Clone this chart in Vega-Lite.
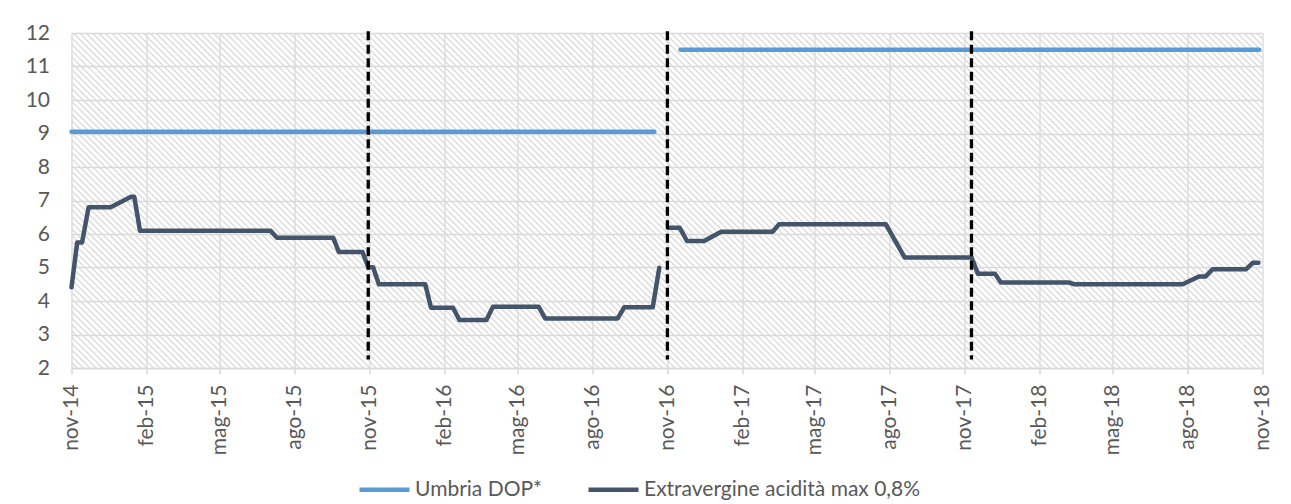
{
  "$schema": "https://vega.github.io/schema/vega-lite/v6.json",
  "width": 1191,
  "height": 335,
  "autosize": {"type": "none"},
  "padding": {"left": 71.5, "top": 33, "right": 28.5, "bottom": 136},
  "background": "white",
  "config": {
    "font": "Lato",
    "view": {"stroke": null, "fill": "white"},
    "axis": {
      "labelFont": "Lato",
      "labelColor": "#595959",
      "labelFontSize": 21,
      "gridColor": "#D9D9D9",
      "gridWidth": 1.3,
      "domainColor": "#D9D9D9",
      "domainWidth": 1.5,
      "tickColor": "#D9D9D9",
      "tickWidth": 1.5,
      "title": null
    },
    "legend": {
      "orient": "none",
      "legendX": 285.5,
      "legendY": 429,
      "direction": "horizontal",
      "title": null,
      "labelFont": "Lato",
      "labelFontSize": 21,
      "labelColor": "#595959",
      "labelLimit": 500,
      "symbolType": "stroke",
      "symbolSize": 2500,
      "symbolStrokeWidth": 4.5,
      "columnPadding": 37,
      "labelOffset": 3
    }
  },
  "datasets": {
    "prezzi": [
      {"date": "2014-11-01", "serie": "Umbria DOP*", "seg": "u1", "v": 9.05},
      {"date": "2016-10-16", "serie": "Umbria DOP*", "seg": "u1", "v": 9.05},
      {"date": "2016-11-17", "serie": "Umbria DOP*", "seg": "u2", "v": 11.5},
      {"date": "2018-10-28", "serie": "Umbria DOP*", "seg": "u2", "v": 11.5},

      {"date": "2014-11-01", "serie": "Extravergine acidità max 0,8%", "seg": "e1", "v": 4.41},
      {"date": "2014-11-08", "serie": "Extravergine acidità max 0,8%", "seg": "e1", "v": 5.75},
      {"date": "2014-11-14", "serie": "Extravergine acidità max 0,8%", "seg": "e1", "v": 5.75},
      {"date": "2014-11-22", "serie": "Extravergine acidità max 0,8%", "seg": "e1", "v": 6.8},
      {"date": "2014-12-19", "serie": "Extravergine acidità max 0,8%", "seg": "e1", "v": 6.8},
      {"date": "2015-01-13", "serie": "Extravergine acidità max 0,8%", "seg": "e1", "v": 7.11},
      {"date": "2015-01-17", "serie": "Extravergine acidità max 0,8%", "seg": "e1", "v": 7.11},
      {"date": "2015-01-24", "serie": "Extravergine acidità max 0,8%", "seg": "e1", "v": 6.1},
      {"date": "2015-07-03", "serie": "Extravergine acidità max 0,8%", "seg": "e1", "v": 6.1},
      {"date": "2015-07-11", "serie": "Extravergine acidità max 0,8%", "seg": "e1", "v": 5.89},
      {"date": "2015-09-18", "serie": "Extravergine acidità max 0,8%", "seg": "e1", "v": 5.89},
      {"date": "2015-09-25", "serie": "Extravergine acidità max 0,8%", "seg": "e1", "v": 5.46},
      {"date": "2015-10-24", "serie": "Extravergine acidità max 0,8%", "seg": "e1", "v": 5.46},
      {"date": "2015-10-31", "serie": "Extravergine acidità max 0,8%", "seg": "e1", "v": 5.01},
      {"date": "2015-11-06", "serie": "Extravergine acidità max 0,8%", "seg": "e1", "v": 5.01},
      {"date": "2015-11-13", "serie": "Extravergine acidità max 0,8%", "seg": "e1", "v": 4.5},
      {"date": "2016-01-09", "serie": "Extravergine acidità max 0,8%", "seg": "e1", "v": 4.5},
      {"date": "2016-01-16", "serie": "Extravergine acidità max 0,8%", "seg": "e1", "v": 3.8},
      {"date": "2016-02-12", "serie": "Extravergine acidità max 0,8%", "seg": "e1", "v": 3.8},
      {"date": "2016-02-20", "serie": "Extravergine acidità max 0,8%", "seg": "e1", "v": 3.43},
      {"date": "2016-03-24", "serie": "Extravergine acidità max 0,8%", "seg": "e1", "v": 3.43},
      {"date": "2016-04-01", "serie": "Extravergine acidità max 0,8%", "seg": "e1", "v": 3.83},
      {"date": "2016-05-27", "serie": "Extravergine acidità max 0,8%", "seg": "e1", "v": 3.83},
      {"date": "2016-06-04", "serie": "Extravergine acidità max 0,8%", "seg": "e1", "v": 3.48},
      {"date": "2016-09-01", "serie": "Extravergine acidità max 0,8%", "seg": "e1", "v": 3.48},
      {"date": "2016-09-09", "serie": "Extravergine acidità max 0,8%", "seg": "e1", "v": 3.81},
      {"date": "2016-10-14", "serie": "Extravergine acidità max 0,8%", "seg": "e1", "v": 3.81},
      {"date": "2016-10-22", "serie": "Extravergine acidità max 0,8%", "seg": "e1", "v": 4.99},

      {"date": "2016-11-02", "serie": "Extravergine acidità max 0,8%", "seg": "e2", "v": 6.19},
      {"date": "2016-11-16", "serie": "Extravergine acidità max 0,8%", "seg": "e2", "v": 6.19},
      {"date": "2016-11-25", "serie": "Extravergine acidità max 0,8%", "seg": "e2", "v": 5.79},
      {"date": "2016-12-16", "serie": "Extravergine acidità max 0,8%", "seg": "e2", "v": 5.79},
      {"date": "2017-01-06", "serie": "Extravergine acidità max 0,8%", "seg": "e2", "v": 6.07},
      {"date": "2017-03-10", "serie": "Extravergine acidità max 0,8%", "seg": "e2", "v": 6.07},
      {"date": "2017-03-18", "serie": "Extravergine acidità max 0,8%", "seg": "e2", "v": 6.29},
      {"date": "2017-07-27", "serie": "Extravergine acidità max 0,8%", "seg": "e2", "v": 6.29},
      {"date": "2017-08-19", "serie": "Extravergine acidità max 0,8%", "seg": "e2", "v": 5.3},
      {"date": "2017-11-09", "serie": "Extravergine acidità max 0,8%", "seg": "e2", "v": 5.3},
      {"date": "2017-11-17", "serie": "Extravergine acidità max 0,8%", "seg": "e2", "v": 4.81},
      {"date": "2017-12-08", "serie": "Extravergine acidità max 0,8%", "seg": "e2", "v": 4.81},
      {"date": "2017-12-15", "serie": "Extravergine acidità max 0,8%", "seg": "e2", "v": 4.55},
      {"date": "2018-03-09", "serie": "Extravergine acidità max 0,8%", "seg": "e2", "v": 4.55},
      {"date": "2018-03-15", "serie": "Extravergine acidità max 0,8%", "seg": "e2", "v": 4.5},
      {"date": "2018-07-26", "serie": "Extravergine acidità max 0,8%", "seg": "e2", "v": 4.5},
      {"date": "2018-08-15", "serie": "Extravergine acidità max 0,8%", "seg": "e2", "v": 4.73},
      {"date": "2018-08-23", "serie": "Extravergine acidità max 0,8%", "seg": "e2", "v": 4.73},
      {"date": "2018-09-01", "serie": "Extravergine acidità max 0,8%", "seg": "e2", "v": 4.95},
      {"date": "2018-10-12", "serie": "Extravergine acidità max 0,8%", "seg": "e2", "v": 4.95},
      {"date": "2018-10-20", "serie": "Extravergine acidità max 0,8%", "seg": "e2", "v": 5.14},
      {"date": "2018-10-27", "serie": "Extravergine acidità max 0,8%", "seg": "e2", "v": 5.14}
    ],
    "campagne": [
      {"date": "2015-10-31"},
      {"date": "2016-11-01"},
      {"date": "2017-11-09"}
    ]
  },
  "resolve": {"axis": {"x": "independent", "y": "independent"}},
  "layer": [
    {
      "data": {"values": [{}]},
      "mark": {"type": "rule", "clip": true, "color": "#DCDCDC", "strokeWidth": 1090, "strokeDash": [1.4, 3.1], "strokeCap": "butt"},
      "encoding": {
        "x": {"datum": {"year": 2015, "month": 7, "date": 16, "utc": true}, "type": "temporal", "axis": null},
        "x2": {"datum": {"year": 2018, "month": 2, "date": 16, "utc": true}},
        "y": {"datum": -4.5, "type": "quantitative", "axis": null},
        "y2": {"datum": 18.5}
      }
    },
    {
      "data": {"name": "prezzi"},
      "mark": {"type": "line", "strokeWidth": 4.5, "strokeCap": "round", "strokeJoin": "round"},
      "encoding": {
        "x": {
          "field": "date",
          "type": "temporal",
          "scale": {
            "type": "utc",
            "nice": false,
            "domain": [
              {"year": 2014, "month": 11, "date": 1, "utc": true},
              {"year": 2018, "month": 11, "date": 1, "utc": true}
            ]
          },
          "axis": {
            "values": [
              {"year": 2014, "month": 11, "date": 1, "utc": true},
              {"year": 2015, "month": 2, "date": 1, "utc": true},
              {"year": 2015, "month": 5, "date": 1, "utc": true},
              {"year": 2015, "month": 8, "date": 1, "utc": true},
              {"year": 2015, "month": 11, "date": 1, "utc": true},
              {"year": 2016, "month": 2, "date": 1, "utc": true},
              {"year": 2016, "month": 5, "date": 1, "utc": true},
              {"year": 2016, "month": 8, "date": 1, "utc": true},
              {"year": 2016, "month": 11, "date": 1, "utc": true},
              {"year": 2017, "month": 2, "date": 1, "utc": true},
              {"year": 2017, "month": 5, "date": 1, "utc": true},
              {"year": 2017, "month": 8, "date": 1, "utc": true},
              {"year": 2017, "month": 11, "date": 1, "utc": true},
              {"year": 2018, "month": 2, "date": 1, "utc": true},
              {"year": 2018, "month": 5, "date": 1, "utc": true},
              {"year": 2018, "month": 8, "date": 1, "utc": true},
              {"year": 2018, "month": 11, "date": 1, "utc": true}
            ],
            "labelExpr": "['gen','feb','mar','apr','mag','giu','lug','ago','set','ott','nov','dic'][utcmonth(datum.value)] + '-' + utcFormat(datum.value, '%y')",
            "labelAngle": -90,
            "tickSize": 6,
            "labelPadding": 10,
            "grid": true,
            "labelOverlap": false,
            "labelFlush": false
          }
        },
        "y": {
          "field": "v",
          "type": "quantitative",
          "scale": {"domain": [2, 12], "nice": false, "zero": false},
          "axis": {
            "values": [2, 3, 4, 5, 6, 7, 8, 9, 10, 11, 12],
            "domain": false,
            "ticks": false,
            "labelPadding": 22,
            "labelOverlap": false,
            "grid": true
          }
        },
        "color": {
          "field": "serie",
          "type": "nominal",
          "scale": {
            "domain": ["Umbria DOP*", "Extravergine acidità max 0,8%"],
            "range": ["#5B9BD5", "#44546A"]
          },
          "legend": {}
        },
        "detail": {"field": "seg", "type": "nominal"}
      }
    },
    {
      "data": {"name": "campagne"},
      "mark": {"type": "rule", "color": "black", "strokeWidth": 3.3, "strokeDash": [9, 4.5]},
      "encoding": {
        "x": {"field": "date", "type": "temporal", "axis": null},
        "y": {"datum": 12.05, "type": "quantitative", "axis": null},
        "y2": {"datum": 2.25}
      }
    }
  ]
}
